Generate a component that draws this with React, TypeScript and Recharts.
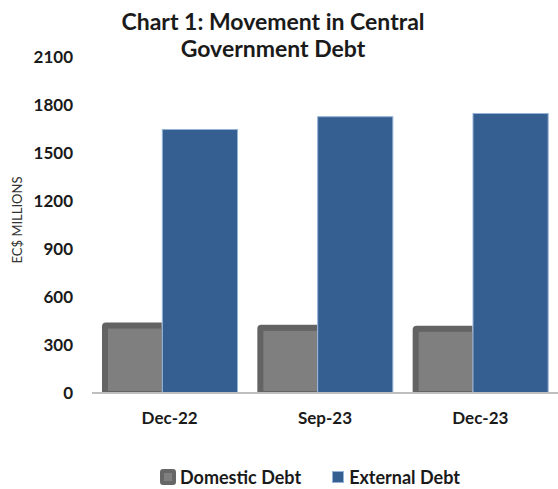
import { Bar, BarChart, XAxis, YAxis } from "recharts";

const periods = ["Dec-22", "Sep-23", "Dec-23"];
const domesticDebt = [440, 426, 420];
const externalDebt = [1650, 1730, 1750];
const yTicks = [0, 300, 600, 900, 1200, 1500, 1800, 2100];

const data = periods.map((p, i) => ({
  period: p,
  domestic: domesticDebt[i],
  external: externalDebt[i],
}));

const FONT = "Lato, 'Open Sans', sans-serif";
const SPLIT = 0.88; // share of the slot kept by the domestic bar

function DomesticShape(props: any) {
  const { x, y, width, height } = props;
  const w = width * SPLIT;
  const r = 4;
  const outer = `M${x},${y + height} L${x},${y + r} Q${x},${y} ${x + r},${y} L${x + w},${y} L${x + w},${y + height} Z`;
  return (
    <g>
      <path d={outer} fill="#636363" />
      <rect x={x + 6} y={y + 6} width={w - 6} height={Math.max(height - 8, 0)} fill="#7f7f7f" />
    </g>
  );
}

function ExternalShape(props: any) {
  const { x, y, width, height } = props;
  const shift = width * (1 - SPLIT);
  return (
    <rect
      x={x - shift + 0.5}
      y={y + 0.5}
      width={width + shift - 1}
      height={height - 0.5}
      fill="#365f91"
      stroke="#95b3d7"
      strokeWidth={1}
    />
  );
}

export default function App() {
  return (
    <div
      style={{
        position: "absolute",
        left: 0,
        top: 0,
        width: 558,
        height: 489,
        background: "#fff",
        fontFamily: FONT,
      }}
    >
      <div
        style={{
          position: "absolute",
          left: 273 - 200,
          width: 400,
          top: 8,
          textAlign: "center",
          fontWeight: 700,
          fontSize: 23,
          lineHeight: "27px",
          color: "#1a1a1a",
        }}
      >
        Chart 1: Movement in Central
        <br />
        Government Debt
      </div>
      <BarChart
        width={558}
        height={489}
        data={data}
        margin={{ top: 57, right: 0, bottom: 66, left: 0 }}
        barCategoryGap={10}
        barGap={0}
      >
        <YAxis
          width={92}
          domain={[0, 2100]}
          ticks={yTicks}
          interval={0}
          axisLine={false}
          tickLine={false}
          tickSize={0}
          tickMargin={19}
          tick={{ fill: "#1a1a1a", fontSize: 17, fontWeight: 700, fontFamily: FONT }}
          label={{
            value: "EC$ MILLIONS",
            angle: -90,
            position: "insideLeft",
            offset: 0,
            dx: 17,
            dy: -5,
            style: { fill: "#333", fontSize: 13, fontFamily: FONT, textAnchor: "middle" },
          }}
        />
        <XAxis
          dataKey="period"
          axisLine={{ stroke: "#bfbfbf", strokeWidth: 2 }}
          tickLine={false}
          tickSize={0}
          tickMargin={19}
          tick={{ fill: "#1a1a1a", fontSize: 17, fontWeight: 700, fontFamily: FONT }}
        />
        <Bar dataKey="domestic" name="Domestic Debt" shape={DomesticShape} isAnimationActive={false} />
        <Bar dataKey="external" name="External Debt" shape={ExternalShape} isAnimationActive={false} />
      </BarChart>
      <div
        style={{
          position: "absolute",
          left: 160,
          top: 466,
          display: "flex",
          alignItems: "center",
          fontWeight: 700,
          fontSize: 18,
          color: "#1a1a1a",
          lineHeight: "22px",
        }}
      >
        <span
          style={{
            width: 16,
            height: 16,
            boxSizing: "border-box",
            borderRadius: 3,
            background: "#7f7f7f",
            border: "4px solid #666",
            marginRight: 4,
          }}
        />
        <span>Domestic Debt</span>
        <span
          style={{
            width: 12,
            height: 12,
            boxSizing: "border-box",
            background: "#365f91",
            border: "1px solid #95b3d7",
            marginLeft: 31,
            marginRight: 5,
          }}
        />
        <span>External Debt</span>
      </div>
    </div>
  );
}
